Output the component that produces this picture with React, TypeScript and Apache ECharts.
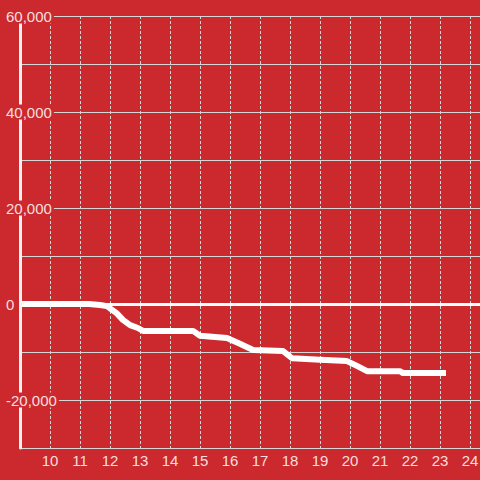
import React, { useEffect, useRef } from "react";
import * as echarts from "echarts";

// Hours of day (x) and cumulative values (y)
const hours = [9, 11.3, 11.67, 11.9, 12.0, 12.22, 12.43, 12.67, 12.93, 13.1, 14.77, 15.0, 15.9, 16.33, 16.77, 17.77, 18.07, 19.0, 19.9, 20.23, 20.57, 21.67, 21.77, 23.2];
const values = [0, 0, -200, -450, -900, -1900, -3300, -4400, -5000, -5600, -5600, -6600, -7100, -8300, -9600, -9800, -11300, -11600, -11900, -12900, -14000, -14000, -14400, -14400];

const yMin = -30000;
const yMax = 60000;
const yStep = 10000;
const yLabelValues = [60000, 40000, 20000, 0, -20000];
const xMin = 9;
const xMax = 24 + 1 / 3;
const xLabelValues = [10, 11, 12, 13, 14, 15, 16, 17, 18, 19, 20, 21, 22, 23, 24];

const BG = "rgb(204,41,46)";
const TEXT = "rgba(255,255,255,0.86)";
const GRID = "#d6d6d6";
const FONT = "'Liberation Sans', Arial, sans-serif";

export default function App() {
  const ref = useRef<HTMLDivElement>(null);
  useEffect(() => {
    if (!ref.current) return;
    const chart = echarts.init(ref.current, undefined, { renderer: "svg" });
    chart.setOption({
      animation: false,
      backgroundColor: BG,
      grid: { left: 20, right: 0, top: 16, bottom: 32, containLabel: false, outerBoundsMode: "none" },
      xAxis: {
        type: "value",
        min: xMin,
        max: xMax,
        interval: 1,
        position: "bottom",
        z: 0,
        axisLine: { show: true, onZero: false, lineStyle: { color: GRID, width: 1 } },
        axisTick: { show: false },
        axisLabel: {
          show: true,
          margin: 5,
          color: TEXT,
          fontSize: 15,
          fontFamily: FONT,
          showMinLabel: false,
          showMaxLabel: false,
          formatter: (v: number) => (xLabelValues.includes(Math.round(v)) && Math.abs(v - Math.round(v)) < 1e-6 ? String(Math.round(v)) : ""),
        },
        splitLine: { show: true, lineStyle: { color: GRID, width: 1, type: [3, 2] } },
      },
      yAxis: [
        {
          type: "value",
          min: yMin,
          max: yMax,
          interval: yStep,
          position: "left",
          z: 0,
          axisLine: { show: false },
          axisTick: { show: false },
          axisLabel: { show: false },
          splitLine: { show: true, lineStyle: { color: GRID, width: 1 } },
        },
        {
          type: "value",
          min: yMin,
          max: yMax,
          interval: yStep,
          position: "left",
          z: 10,
          axisLine: { show: true, onZero: false, lineStyle: { color: "#f2f2f2", width: 3 } },
          axisTick: { show: false },
          splitLine: { show: false },
          axisLabel: {
            show: true,
            margin: 16,
            align: "left",
            showMinLabel: false,
            formatter: (v: number) =>
              yLabelValues.includes(v) ? "{a|" + v.toLocaleString("en-US") + "}" : "",
            rich: {
              a: {
                color: TEXT,
                fontSize: 15,
                fontFamily: FONT,
                lineHeight: 16,
                backgroundColor: BG,
                padding: [0, 2, 0, 2],
              },
            },
          },
        },
      ],
      series: [
        {
          type: "line",
          xAxisIndex: 0,
          yAxisIndex: 0,
          z: 3,
          data: hours.map((h, i) => [h, values[i]]),
          showSymbol: false,
          symbol: "none",
          lineStyle: { color: "#ffffff", width: 6, cap: "butt", join: "round" },
          markLine: {
            silent: true,
            symbol: ["none", "none"],
            label: { show: false },
            lineStyle: { color: "#ffffff", width: 3, type: "solid" },
            data: [{ yAxis: 0 }],
          },
        },
      ],
    });
    return () => chart.dispose();
  }, []);
  return <div ref={ref} style={{ position: "fixed", left: 0, top: 0, width: 480, height: 480 }} />;
}
